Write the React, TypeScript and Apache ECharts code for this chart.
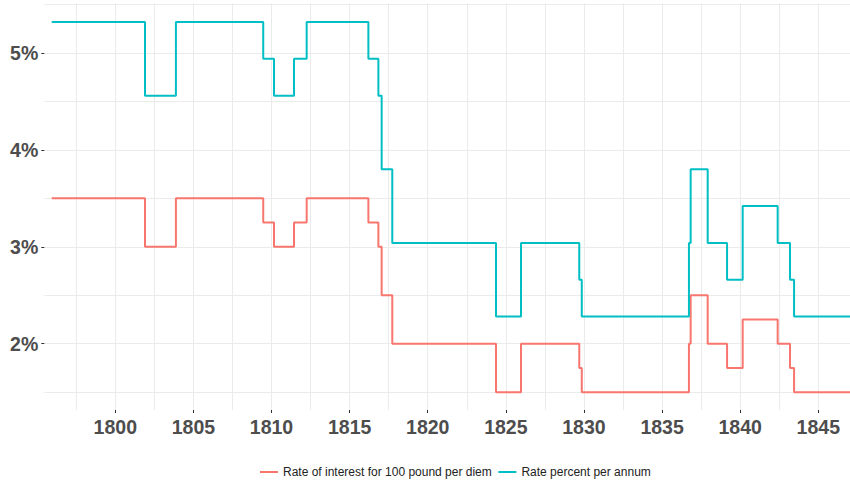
import React, { useEffect, useRef } from "react";
import * as echarts from "echarts";

const changeYears = [
  1795.93, 1801.9, 1803.88, 1809.47, 1810.16, 1811.44, 1812.25, 1816.2, 1816.84,
  1817.05, 1817.73, 1824.37, 1825.97, 1829.7, 1829.86, 1836.72, 1836.83, 1837.92,
  1839.16, 1840.16, 1842.4, 1843.19, 1843.45, 1847.1,
];
const perDiem = [
  3.5, 3.0, 3.5, 3.25, 3.0, 3.25, 3.5, 3.25, 3.0, 2.5, 2.0, 1.5, 2.0, 1.75, 1.5, 2.0,
  2.5, 2.0, 1.75, 2.25, 2.0, 1.75, 1.5, 1.5,
];
const perAnnum = [
  5.32, 4.56, 5.32, 4.94, 4.56, 4.94, 5.32, 4.94, 4.56, 3.8, 3.04, 2.28, 3.04, 2.66,
  2.28, 3.04, 3.8, 3.04, 2.66, 3.42, 3.04, 2.66, 2.28, 2.28,
];
const seriesNames = ["Rate of interest for 100 pound per diem", "Rate percent per annum"];
const xLabelYears = [1800, 1805, 1810, 1815, 1820, 1825, 1830, 1835, 1840, 1845];
const xGridYears = [
  1797.5, 1800, 1802.5, 1805, 1807.5, 1810, 1812.5, 1815, 1817.5, 1820, 1822.5, 1825,
  1827.5, 1830, 1832.5, 1835, 1837.5, 1840, 1842.5, 1845,
];
const yLabelValues = [2, 3, 4, 5];
const yGridValues = [1.5, 2, 2.5, 3, 3.5, 4, 4.5, 5, 5.5];

const FONT = "'Liberation Sans', Arial, sans-serif";

export default function App() {
  const ref = useRef<HTMLDivElement>(null);
  useEffect(() => {
    if (!ref.current) return;
    const chart = echarts.init(ref.current, undefined, { renderer: "svg" });
    const xMin = 1795.455;
    const xMax = 1847.03;
    const yMin = 1.316;
    const yMax = 5.511;
    const gridLine = { show: true, lineStyle: { color: "#ebebeb", width: 1 } };
    const option: any = {
      animation: false,
      backgroundColor: "#ffffff",
      grid: { left: 44.3, right: 0, top: 3.5, bottom: 70, outerBoundsMode: "none" },
      legend: {
        left: 255,
        top: 461,
        icon: "rect",
        itemWidth: 18,
        itemHeight: 2,
        itemGap: 6.6,
        textStyle: { fontFamily: FONT, fontSize: 12, color: "#222" },
        data: seriesNames,
      },
      xAxis: [
        {
          type: "value",
          min: xMin,
          max: xMax,
          axisLine: { show: false },
          splitLine: { show: false },
          axisTick: {
            show: true,
            length: 3,
            customValues: xLabelYears,
            lineStyle: { color: "#333", width: 1 },
          },
          axisLabel: {
            customValues: xLabelYears,
            formatter: (v: number) => String(v),
            fontFamily: FONT,
            fontSize: 19.5,
            fontWeight: "bold",
            color: "#4d4d4d",
            margin: 6.5,
          },
        },
        {
          type: "value",
          min: xMin,
          max: xMax,
          position: "bottom",
          axisLine: { show: false },
          axisTick: { show: false, customValues: xGridYears },
          axisLabel: { show: false },
          splitLine: gridLine,
        },
      ],
      yAxis: [
        {
          type: "value",
          min: yMin,
          max: yMax,
          axisLine: { show: false },
          splitLine: { show: false },
          axisTick: {
            show: true,
            length: 3,
            customValues: yLabelValues,
            lineStyle: { color: "#333", width: 1 },
          },
          axisLabel: {
            customValues: yLabelValues,
            formatter: (v: number) => `${v}%`,
            fontFamily: FONT,
            fontSize: 19.5,
            fontWeight: "bold",
            color: "#4d4d4d",
            margin: 6,
          },
        },
        {
          type: "value",
          min: yMin,
          max: yMax,
          position: "left",
          axisLine: { show: false },
          axisTick: { show: false, customValues: yGridValues },
          axisLabel: { show: false },
          splitLine: gridLine,
        },
      ],
      series: [
        {
          name: seriesNames[0],
          type: "line",
          step: "end",
          xAxisIndex: 0,
          yAxisIndex: 0,
          showSymbol: false,
          symbol: "none",
          lineStyle: { color: "#F8766D", width: 2 },
          itemStyle: { color: "#F8766D" },
          data: changeYears.map((y, i) => [y, perDiem[i]]),
          z: 3,
        },
        {
          name: seriesNames[1],
          type: "line",
          step: "end",
          xAxisIndex: 0,
          yAxisIndex: 0,
          showSymbol: false,
          symbol: "none",
          lineStyle: { color: "#00BFC4", width: 2 },
          itemStyle: { color: "#00BFC4" },
          data: changeYears.map((y, i) => [y, perAnnum[i]]),
          z: 3,
        },
      ],
    };
    chart.setOption(option);
    return () => chart.dispose();
  }, []);
  return (
    <div
      ref={ref}
      style={{ position: "fixed", left: 0, top: 0, width: 850, height: 480, background: "#fff" }}
    />
  );
}
